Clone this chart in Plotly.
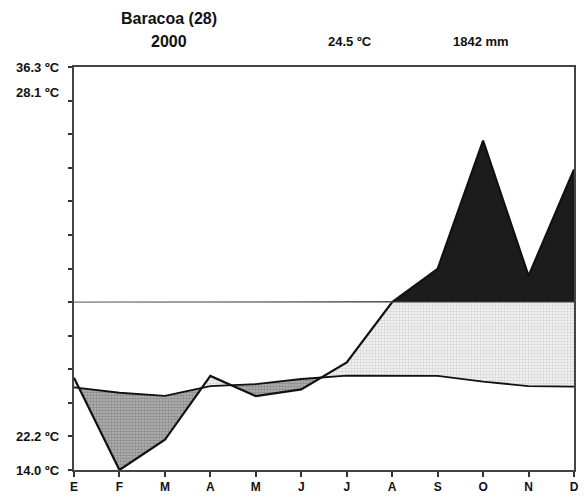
import numpy as np
import plotly.graph_objects as go

# ---- data ----
months = ["E", "F", "M", "A", "M", "J", "J", "A", "S", "O", "N", "D"]
temp_c = [24.6, 23.0, 22.1, 25.0, 25.6, 27.1, 28.1, 28.1, 28.0, 26.3, 25.0, 24.8]
precip_mm = [55, 0, 18, 56, 44, 48, 64, 100, 199, 581, 178, 495]
station = "Baracoa (28)"
year = "2000"
mean_temp_label = "24.5 ºC"
total_precip_label = "1842 mm"
ylabels = ["36.3 ºC", "28.1 ºC", "22.2 ºC", "14.0 ºC"]
ylabel_pos = [12.0, 11.25, 1.0, 0.0]  # in diagram units

# ---- Walter-Lieth scale: 10 ºC = 20 mm = 1 unit; above 100 mm, 100 mm = 1 unit ----
def t_units(t):
    return np.asarray(t, float) / 10.0

def p_units(p):
    p = np.asarray(p, float)
    return np.where(p <= 100, p / 20.0, 5.0 + (p - 100.0) / 100.0)

xm = np.arange(len(months))
tu = t_units(temp_c)
pu = p_units(precip_mm)

xs = np.linspace(0, 11, 4401)
ti = np.interp(xs, xm, tu)
pi = np.interp(xs, xm, pu)

FONT = "Arial, Liberation Sans, sans-serif"
fig = go.Figure()

def band(lower, upper, color, pattern=None):
    fig.add_trace(go.Scatter(x=xs, y=lower, mode="lines", line=dict(width=0),
                             hoverinfo="skip", showlegend=False))
    kw = {}
    if pattern:
        kw["fillpattern"] = pattern
    fig.add_trace(go.Scatter(x=xs, y=upper, mode="lines", line=dict(width=0),
                             fill="tonexty", fillcolor=color,
                             hoverinfo="skip", showlegend=False, **kw))

# dry season (precip below temperature)
band(pi, np.maximum(pi, ti), "#999999",
     dict(shape=".", bgcolor="#b8b8b8", fgcolor="#5e5e5e", size=3, solidity=0.55))
# humid season (precip above temperature, up to 100 mm)
band(ti, np.maximum(ti, np.minimum(pi, 5.0)), "#e2e2e2",
     dict(shape=".", bgcolor="#f8f8f8", fgcolor="#b4b4b4", size=3, solidity=0.5))
# perhumid (above 100 mm)
band(np.full_like(xs, 5.0), np.maximum(pi, 5.0), "#1c1c1c")

# temperature line
fig.add_trace(go.Scatter(x=xm, y=tu, mode="lines", line=dict(color="#111", width=1.8),
                         showlegend=False, hoverinfo="skip"))
# precipitation line
fig.add_trace(go.Scatter(x=xm, y=pu, mode="lines", line=dict(color="#111", width=2.2),
                         showlegend=False, hoverinfo="skip"))

fig.add_shape(type="line", xref="paper", x0=0, x1=1, yref="y", y0=5, y1=5,
              line=dict(color="#555", width=1))

ann = []
def txt(text, x, y, size, xanchor="center"):
    ann.append(dict(text=f"<b>{text}</b>", x=x, y=y, xref="paper", yref="paper",
                    showarrow=False, xanchor=xanchor, yanchor="middle",
                    font=dict(family=FONT, size=size, color="#111")))

def px(xp):
    return (xp - 74) / 500.0

def py(yp):
    return (470 - yp) / 403.0

txt(station, px(169), py(19), 16)
txt(year, px(169), py(41), 16)
txt(mean_temp_label, px(350), py(42), 13)
txt(total_precip_label, px(481), py(42), 13)
for lab, u in zip(ylabels, ylabel_pos):
    ann.append(dict(text=f"<b>{lab}</b>", x=-0.024, y=u, xref="paper", yref="y",
                    showarrow=False, xanchor="right", yanchor="middle",
                    font=dict(family=FONT, size=13, color="#111")))

fig.update_layout(
    width=585, height=502,
    margin=dict(l=74, r=11, t=67, b=32),
    paper_bgcolor="white", plot_bgcolor="white",
    annotations=ann,
    showlegend=False,
    xaxis=dict(range=[0, 11], tickvals=list(xm), ticktext=[f"<b>{m}</b>" for m in months],
               ticks="outside", ticklen=5, tickcolor="#333", tickwidth=1.5,
               showline=True, linecolor="#444", linewidth=1.5, mirror=True,
               showgrid=False, zeroline=False, automargin=False,
               tickfont=dict(family=FONT, size=12, color="#111")),
    yaxis=dict(range=[0, 12], tickvals=list(range(13)), showticklabels=False,
               ticks="outside", ticklen=4, tickcolor="#333", tickwidth=1.5,
               showline=True, linecolor="#444", linewidth=1.5, mirror=True,
               showgrid=False, zeroline=False, automargin=False),
)

fig.write_html("out.html")
